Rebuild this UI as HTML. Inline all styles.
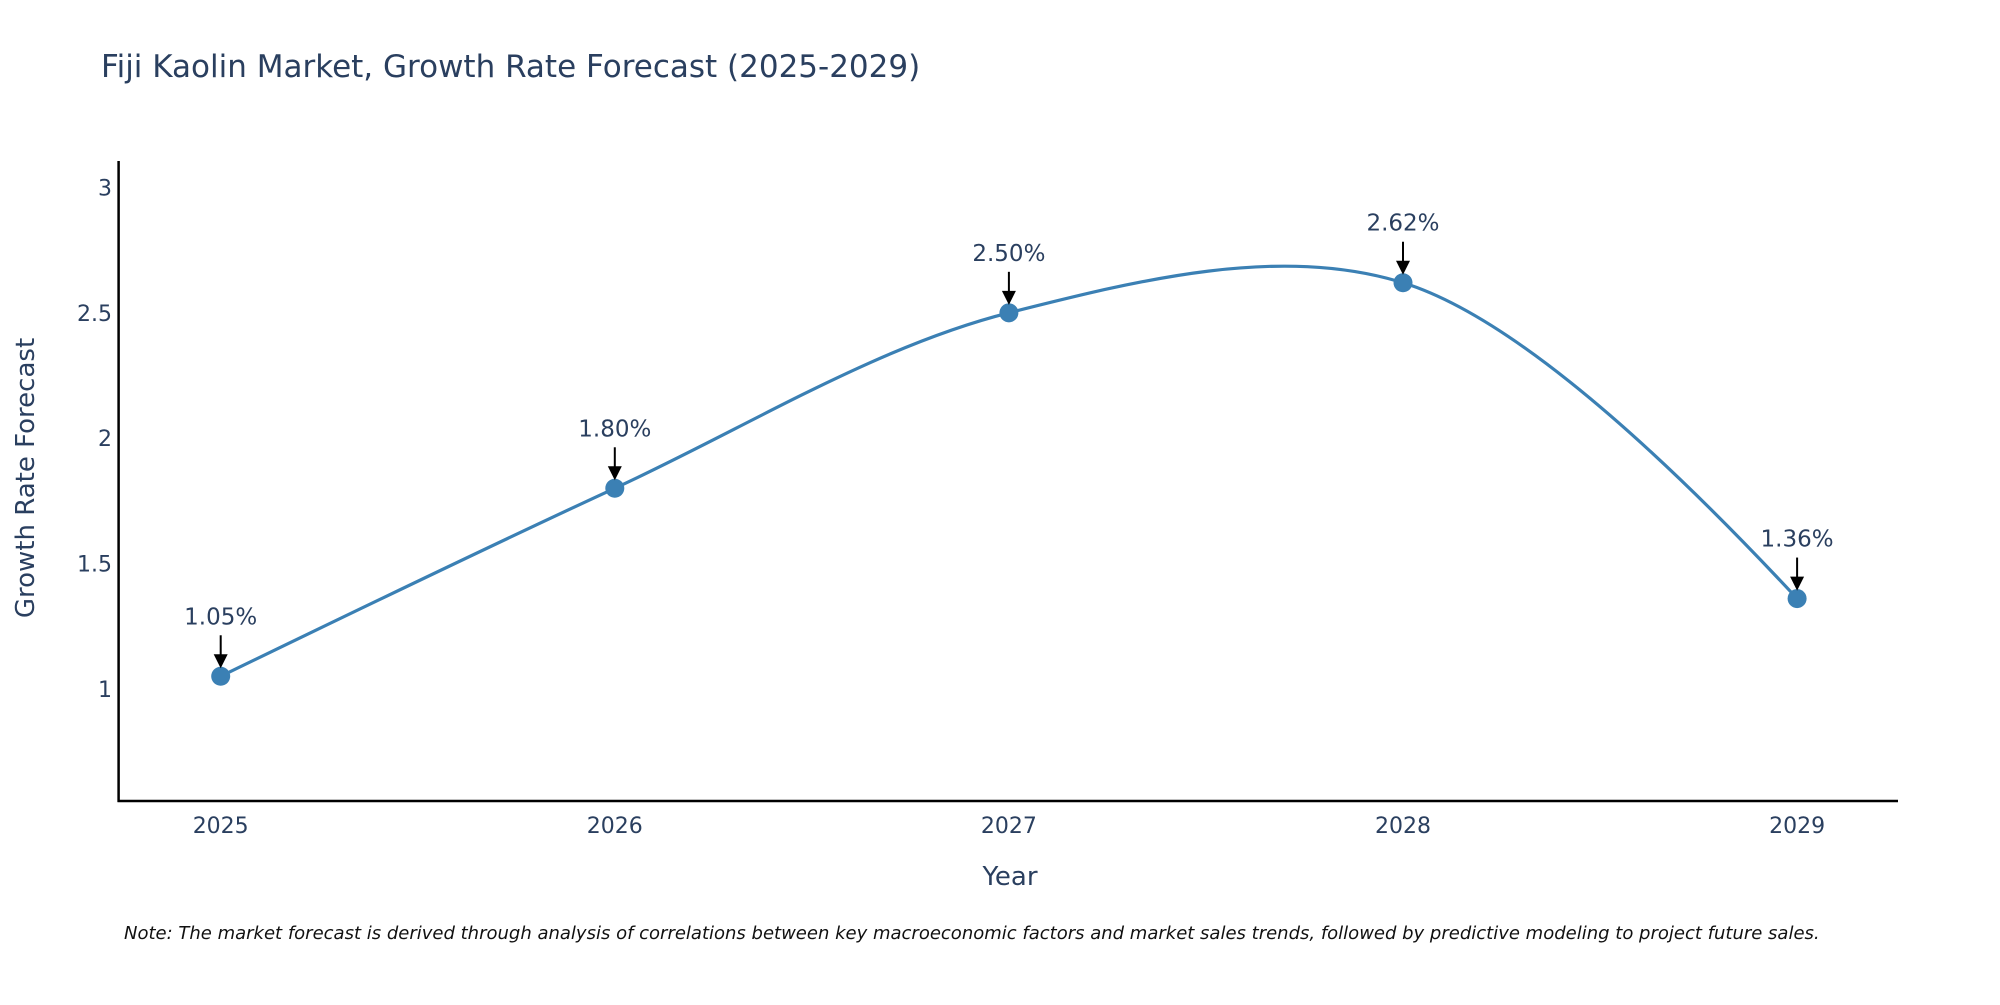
<!DOCTYPE html>
<html><head><meta charset="utf-8"><style>
html,body{margin:0;padding:0;background:#fff;}
svg text{font-family:"DejaVu Sans","Liberation Sans",sans-serif;fill:#2a3f5f;}
</style></head><body>
<svg id="chart" width="2000" height="1000" xmlns="http://www.w3.org/2000/svg">
<text x="101" y="77" font-size="31">Fiji Kaolin Market, Growth Rate Forecast (2025-2029)</text>
<g id="yticks"></g>
<g id="xticks"></g>
<line x1="118.6" y1="161" x2="118.6" y2="802" stroke="#000" stroke-width="2.5"/>
<line x1="117.5" y1="801" x2="1898" y2="801" stroke="#000" stroke-width="2.5"/>
<path id="line" fill="none" stroke="#3b80b4" stroke-width="3.2"/>
<g id="marks"></g>
<g id="annots"></g>
<text x="1010" y="885" font-size="26" text-anchor="middle">Year</text>
<text transform="translate(34,478) rotate(-90)" font-size="26" text-anchor="middle">Growth Rate Forecast</text>
<text x="124" y="939" font-size="18" font-style="italic" style="fill:#111">Note: The market forecast is derived through analysis of correlations between key macroeconomic factors and market sales trends, followed by predictive modeling to project future sales.</text>
</svg>
<script>
const years = [2025, 2026, 2027, 2028, 2029];
const values = [1.05, 1.80, 2.50, 2.62, 1.36];
const labels = ["1.05%", "1.80%", "2.50%", "2.62%", "1.36%"];
const yTicks = [1, 1.5, 2, 2.5, 3];
const yTickLabels = ["1", "1.5", "2", "2.5", "3"];

const NS = "http://www.w3.org/2000/svg";
const x = v => 220.7 + (v - 2025) * 394.1;
const y = v => 688.8 - (v - 1) * 250.65;
function mk(tag, attrs, parent, txt) {
  const e = document.createElementNS(NS, tag);
  for (const k in attrs) e.setAttribute(k, attrs[k]);
  if (txt !== undefined) e.textContent = txt;
  parent.appendChild(e);
  return e;
}
const yt = document.getElementById('yticks');
yTicks.forEach((t, i) => {
  const e = mk('text', {x: 112, y: y(t) + 8, 'font-size': 22, 'text-anchor': 'end'}, yt, yTickLabels[i]);
  
  
});
const xt = document.getElementById('xticks');
years.forEach(t => {
  const e = mk('text', {x: x(t), y: 833, 'font-size': 22, 'text-anchor': 'middle'}, xt, String(t));
  
  
});
const pts = years.map((yr, i) => [x(yr), y(values[i])]);
const sm = 1.0;
function tangent(p, c, n) {
  const d1x = p[0]-c[0], d1y = p[1]-c[1], d2x = n[0]-c[0], d2y = n[1]-c[1];
  const d1a = Math.pow(d1x*d1x+d1y*d1y, 0.25), d2a = Math.pow(d2x*d2x+d2y*d2y, 0.25);
  const nx = (d2a*d2a*d1x - d1a*d1a*d2x)*sm, ny = (d2a*d2a*d1y - d1a*d1a*d2y)*sm;
  const D1 = 3*d2a*(d1a+d2a), D2 = 3*d1a*(d1a+d2a);
  return [[c[0]+nx/D1, c[1]+ny/D1], [c[0]-nx/D2, c[1]-ny/D2]];
}
const tg = [];
for (let i = 1; i < pts.length-1; i++) tg.push(tangent(pts[i-1], pts[i], pts[i+1]));
let d = 'M' + pts[0] + 'Q' + tg[0][0] + ' ' + pts[1];
for (let i = 2; i < pts.length-1; i++) d += 'C' + tg[i-2][1] + ' ' + tg[i-1][0] + ' ' + pts[i];
d += 'Q' + tg[pts.length-3][1] + ' ' + pts[pts.length-1];
document.getElementById('line').setAttribute('d', d);

const mg = document.getElementById('marks');
const ag = document.getElementById('annots');
pts.forEach((p, i) => {
  const c = mk('circle', {cx: p[0], cy: p[1], r: 9.5, fill: '#3b80b4'}, mg);
  
  
  const l = mk('line', {x1: p[0], y1: p[1]-41, x2: p[0], y2: p[1]-20, stroke: '#000', 'stroke-width': 2}, ag);
  
  
  const h = mk('path', {d: `M${p[0]-7},${p[1]-22}L${p[0]+7},${p[1]-22}L${p[0]},${p[1]-8}Z`, fill: '#000'}, ag);
  
  
  const t = mk('text', {x: p[0], y: p[1]-52, 'font-size': 23, 'text-anchor': 'middle'}, ag, labels[i]);
  
  
});
</script>
</body></html>
